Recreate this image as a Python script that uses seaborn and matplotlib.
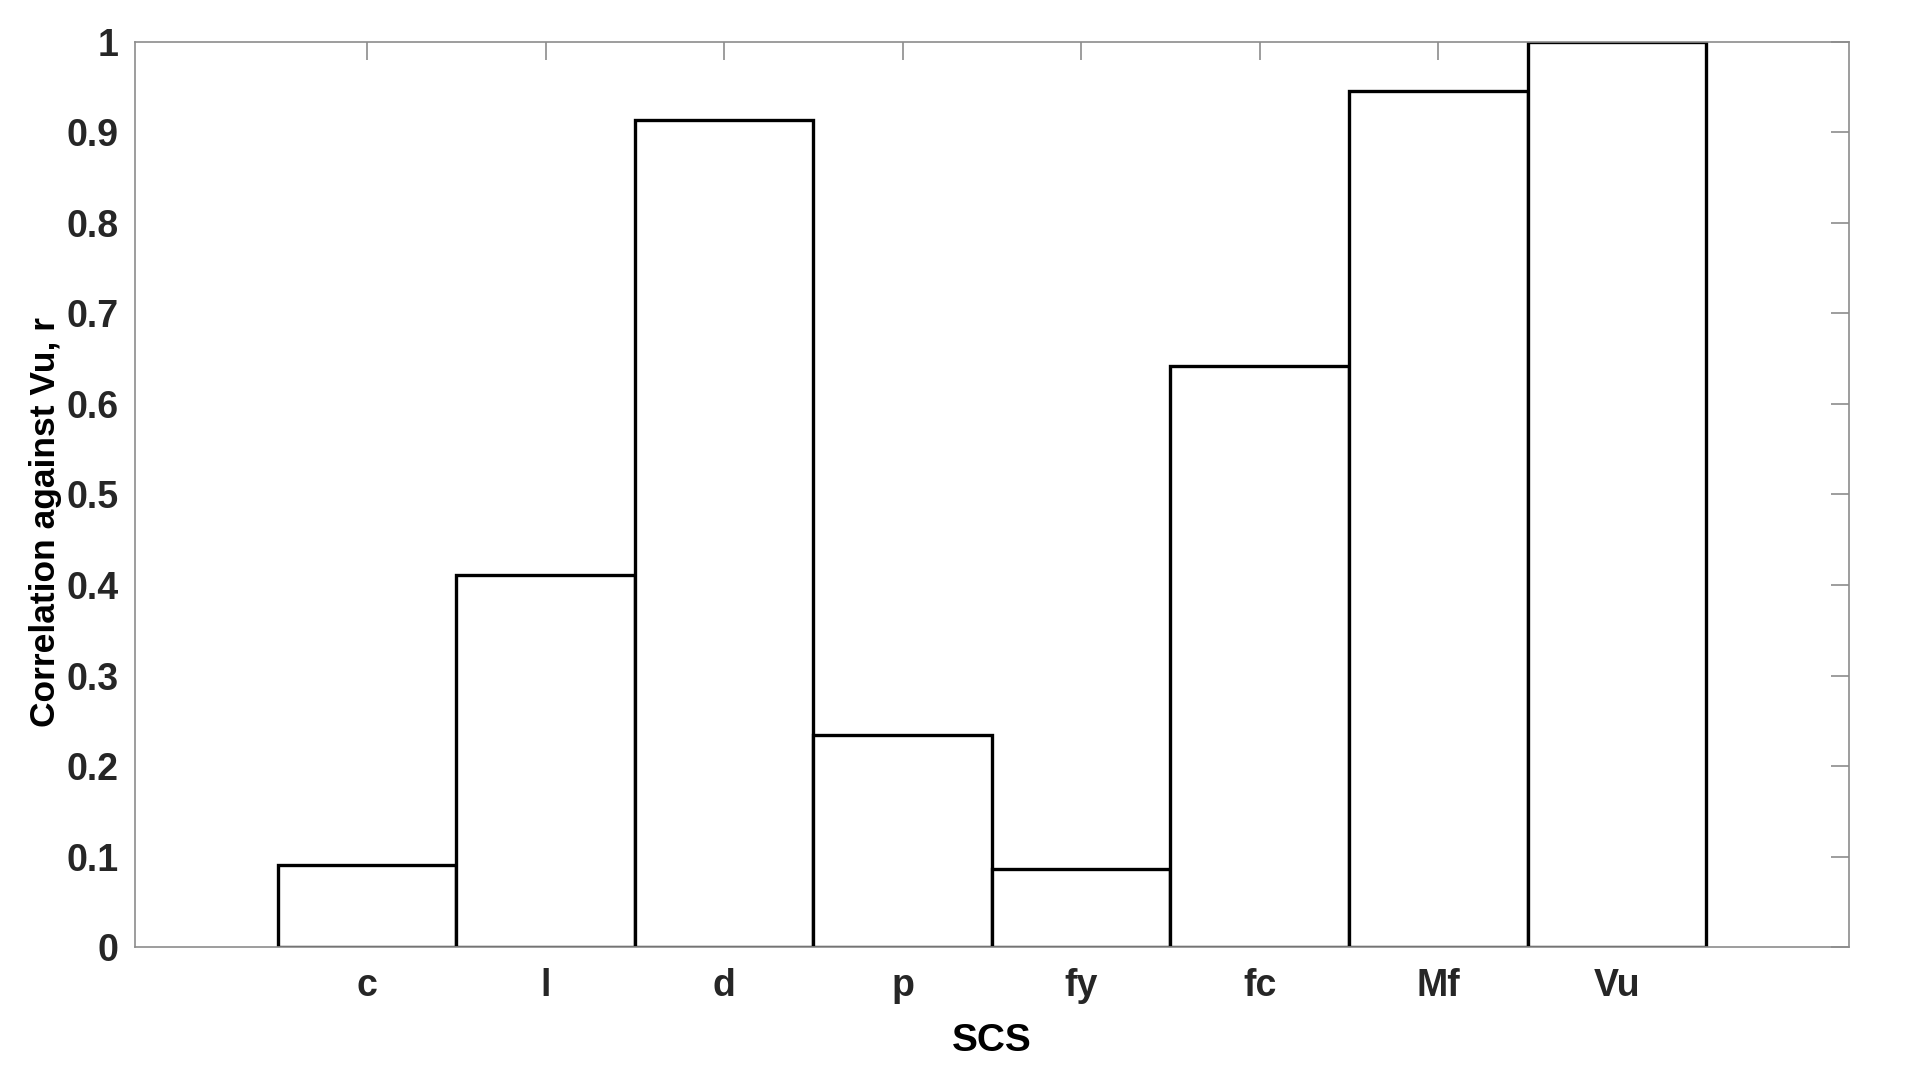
import numpy as np
import seaborn as sns
import matplotlib.pyplot as plt

# correlation of each SCS parameter against Vu
params = ['c', 'l', 'd', 'p', 'fy', 'fc', 'Mf', 'Vu']
corr_r = [0.091, 0.411, 0.914, 0.234, 0.086, 0.642, 0.946, 1.0]
yticks = [0, 0.1, 0.2, 0.3, 0.4, 0.5, 0.6, 0.7, 0.8, 0.9, 1]

sns.set_style('white')
plt.rcParams['font.family'] = ['Liberation Sans', 'DejaVu Sans']
plt.rcParams['font.weight'] = 'bold'

fig = plt.figure(figsize=(19.14, 10.69), dpi=100)
ax = fig.add_axes([0.0705, 0.114, 0.8955, 0.847])

sns.barplot(x=params, y=corr_r, color='white', saturation=1, width=1,
            edgecolor='black', linewidth=2.4, ax=ax)

ax.set_xlim(-1.3, 8.3)
ax.set_ylim(0, 1)
ax.set_yticks(yticks)
ax.set_yticklabels([f'{v:g}' for v in yticks])

for s in ax.spines.values():
    s.set_color('#8c8c8c')
    s.set_linewidth(1.2)
ax.tick_params(direction='in', top=True, right=True, length=13, width=1.2,
               color='#8c8c8c', labelsize=27, labelcolor='#262626', pad=12)
ax.tick_params(axis='x', pad=15)
for lab in ax.get_xticklabels() + ax.get_yticklabels():
    lab.set_fontweight('bold')

ax.set_xlabel('SCS', fontsize=28, fontweight='bold', color='black', labelpad=14)
ax.set_ylabel('Correlation against Vu, r', fontsize=25.5, fontweight='bold',
              color='black')
ax.yaxis.set_label_coords(-0.0425, 0.47)

fig.savefig('out.png', dpi=100)
